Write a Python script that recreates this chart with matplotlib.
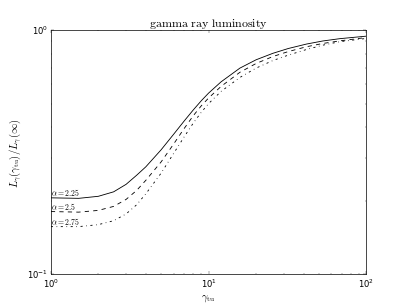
#!/usr/bin/env python3
import numpy as np
import matplotlib
matplotlib.use('Agg')
import matplotlib.pyplot as plt

plt.style.use('classic')

# gamma_tu sample points and L(gamma_tu)/L(inf)
gamma_tu = [1, 1.5, 2, 2.5, 3, 3.5, 4, 5, 6, 7, 8, 9, 10, 12, 15.8, 20, 25.6,
            32, 41.7, 53, 68, 100]
lum_225 = [0.206, 0.205, 0.209, 0.218, 0.234, 0.255, 0.276, 0.324, 0.375, 0.425,
           0.472, 0.515, 0.553, 0.615, 0.700, 0.757, 0.805, 0.842, 0.878, 0.904,
           0.924, 0.946]
lum_25 = [0.181, 0.180, 0.183, 0.190, 0.203, 0.221, 0.243, 0.289, 0.342, 0.396,
          0.447, 0.491, 0.528, 0.589, 0.673, 0.731, 0.781, 0.818, 0.856, 0.883,
          0.905, 0.934]
lum_275 = [0.157, 0.157, 0.160, 0.166, 0.177, 0.193, 0.214, 0.260, 0.313, 0.366,
           0.417, 0.462, 0.501, 0.562, 0.641, 0.700, 0.752, 0.791, 0.834, 0.869,
           0.898, 0.926]
alphas = ['2.25', '2.5', '2.75']
styles = ['-', '--', '-.']

fig = plt.figure(figsize=(8, 6), dpi=50.875)
ax = fig.add_subplot(111)

for lum, a, ls in zip([lum_225, lum_25, lum_275], alphas, styles):
    ax.loglog(gamma_tu, lum, color='k', linestyle=ls, linewidth=1.2)
    ax.text(1.0, lum[0], r'$\alpha=%s$' % a, fontsize=11, va='bottom', ha='left',
            math_fontfamily='cm')

ax.set_xlim(1, 100)
ax.set_ylim(0.1, 1)
ax.set_xlabel(r'$\gamma_{\rm tu}$', fontsize=15, math_fontfamily='cm')
ax.set_ylabel(r'$L_\gamma(\gamma_{\rm tu})/L_\gamma(\infty)$', fontsize=15,
              math_fontfamily='cm')
ax.set_title(r'$\mathrm{gamma\ ray\ luminosity}$', fontsize=17, math_fontfamily='cm')

fig.savefig('out.png', dpi=50.875)
